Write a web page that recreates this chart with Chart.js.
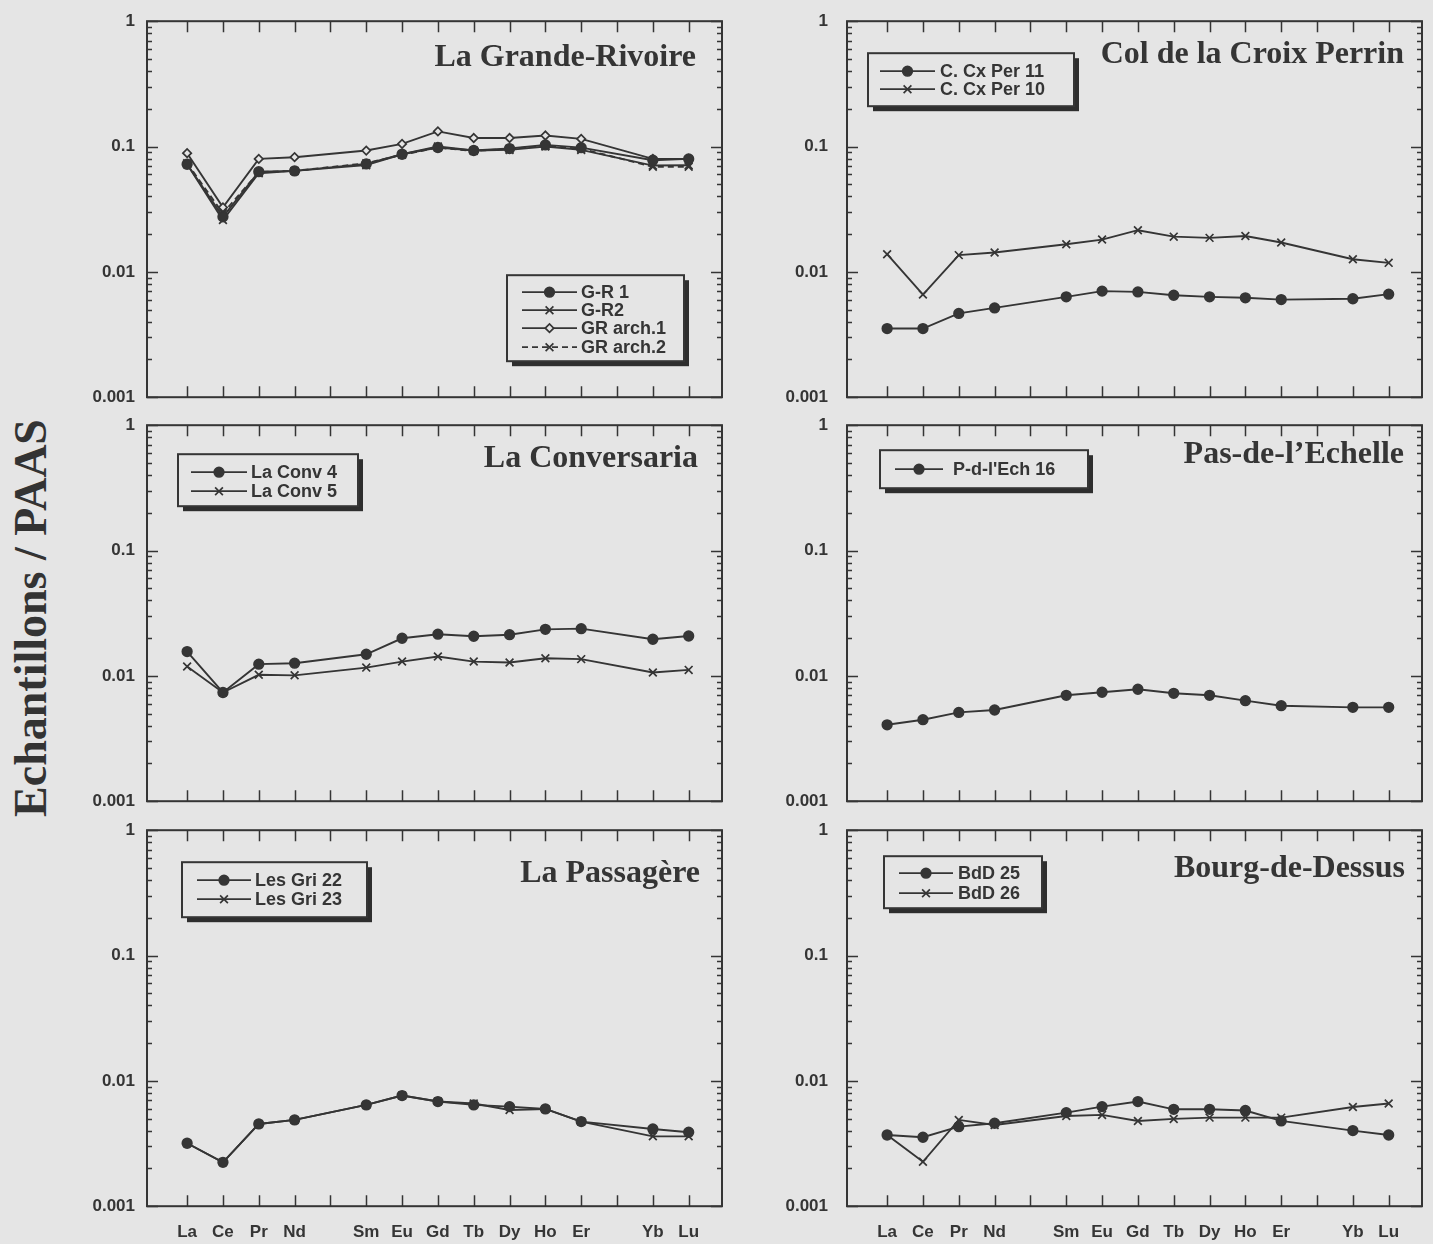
<!DOCTYPE html>
<html>
<head>
<meta charset="utf-8">
<script src="https://cdn.jsdelivr.net/npm/chart.js@4.4.0/dist/chart.umd.min.js"></script>
<style>
  body { margin: 0; background: #e5e5e5; width: 1433px; height: 1244px; position: relative; overflow: hidden; }
  canvas { position: absolute; }
  #ylab { position: absolute; left: 30px; top: 618px; transform: translate(-50%, -50%) rotate(-90deg);
          font: bold 46px "Liberation Serif", serif; color: #333; white-space: nowrap; }
</style>
</head>
<body>
<div id="ylab">Echantillons / PAAS</div>
<canvas id="p1"></canvas>
<canvas id="p2"></canvas>
<canvas id="p3"></canvas>
<canvas id="p4"></canvas>
<canvas id="p5"></canvas>
<canvas id="p6"></canvas>
<script>
// REE on x (blank = Pm, Tm, not analysed)
const elements = ['La', 'Ce', 'Pr', 'Nd', '', 'Sm', 'Eu', 'Gd', 'Tb', 'Dy', 'Ho', 'Er', '', 'Yb', 'Lu'];
const yTicks = [0.001, 0.01, 0.1, 1];
const yTickLabels = ['0.001', '0.01', '0.1', '1'];

// La Grande-Rivoire
const grR1    = [0.0722, 0.0275, 0.063, 0.0639, null, 0.0727, 0.0868, 0.0982, 0.093, 0.0964, 0.103, 0.098, null, 0.0778, 0.0797];
const grR2    = [0.0722, 0.0259, 0.0612, 0.0639, null, 0.071, 0.0868, 0.1, 0.093, 0.094, 0.1, 0.094, null, 0.0705, 0.071];
const grArch1 = [0.0885, 0.0327, 0.0797, 0.0822, null, 0.0929, 0.105, 0.132, 0.117, 0.117, 0.1225, 0.115, null, 0.0797, 0.0797];
const grArch2 = [0.0735, 0.0293, 0.0625, 0.0639, null, 0.0735, 0.086, 0.098, 0.092, 0.096, 0.101, 0.096, null, 0.069, 0.069];
// Col de la Croix Perrin
const cxPer11 = [0.00353, 0.00353, 0.00466, 0.00516, null, 0.00632, 0.00702, 0.00692, 0.00651, 0.00632, 0.00621, 0.00601, null, 0.0061, 0.00664];
const cxPer10 = [0.01384, 0.00659, 0.0136, 0.01426, null, 0.01663, 0.0181, 0.0215, 0.0191, 0.01867, 0.0193, 0.01714, null, 0.01262, 0.0118];
// La Conversaria
const conv4 = [0.01563, 0.00737, 0.0124, 0.01262, null, 0.01487, 0.01995, 0.0215, 0.0207, 0.0213, 0.0235, 0.0238, null, 0.0196, 0.0208];
const conv5 = [0.01186, 0.00737, 0.0102, 0.0101, null, 0.01164, 0.013, 0.01426, 0.013, 0.01277, 0.01383, 0.0136, null, 0.01063, 0.01116];
// Pas-de-l'Echelle
const pdEch16 = [0.00407, 0.00447, 0.00511, 0.00534, null, 0.007, 0.0074, 0.00782, 0.00726, 0.007, 0.00634, 0.00578, null, 0.00561, 0.00561];
// La Passagère
const gri22 = [0.00318, 0.00224, 0.00453, 0.00488, null, 0.00643, 0.00763, 0.00684, 0.00643, 0.00623, 0.00597, 0.00473, null, 0.00413, 0.00389];
const gri23 = [0.00318, 0.00224, 0.00453, 0.00488, null, 0.00643, 0.00763, 0.00684, 0.0066, 0.00586, 0.00597, 0.00473, null, 0.00361, 0.00361];
// Bourg-de-Dessus
const bdd25 = [0.0037, 0.00355, 0.00431, 0.00459, null, 0.00558, 0.00623, 0.00684, 0.00593, 0.00593, 0.0058, 0.00479, null, 0.00401, 0.0037];
const bdd26 = [0.0037, 0.00226, 0.00488, 0.00445, null, 0.00525, 0.00535, 0.00479, 0.00497, 0.00509, 0.00509, 0.00509, null, 0.00619, 0.00659];

const INK = '#353535';
const BG = '#e5e5e5';
const FRAME_W = 575, FRAME_H = 376, AXIS_W = 67, PAD_R = 12;
const SANS = '"Liberation Sans", Arial, sans-serif';

function series(label, data, mark, dashed) {
  const d = {
    label: label, data: data, spanGaps: true,
    borderColor: INK, borderWidth: 1.9, borderDash: dashed ? [6, 4] : [],
    pointBorderColor: INK, pointBorderWidth: 1.7
  };
  if (mark === 'dot') { d.pointStyle = 'circle'; d.pointRadius = 4.8; d.pointBackgroundColor = INK; }
  if (mark === 'cross') { d.pointStyle = 'crossRot'; d.pointRadius = 5.5; d.pointBackgroundColor = INK; }
  if (mark === 'diamond') { d.pointStyle = 'rectRot'; d.pointRadius = 4.2; d.pointBackgroundColor = BG; }
  return d;
}

// draws the boxed frame with inward ticks, the site name and the boxed legend
const panelDecor = {
  id: 'panelDecor',
  afterDatasetsDraw(chart, args, opts) {
    const ctx = chart.ctx, a = chart.chartArea;
    const xs = chart.scales.x, ys = chart.scales.y;
    ctx.save();
    ctx.strokeStyle = INK;
    ctx.lineWidth = 1.5;
    ctx.beginPath();
    elements.forEach((e, i) => {
      const px = Math.round(xs.getPixelForValue(i)) + 0.5;
      ctx.moveTo(px, a.bottom); ctx.lineTo(px, a.bottom - 11);
      ctx.moveTo(px, a.top); ctx.lineTo(px, a.top + 11);
    });
    for (let k = -3; k <= 0; k++) {
      for (let m = 1; m <= 9; m++) {
        if (k === 0 && m > 1) break;
        const py = Math.round(ys.getPixelForValue(m * Math.pow(10, k))) + 0.5;
        const len = m === 1 ? 11 : 5;
        ctx.moveTo(a.left, py); ctx.lineTo(a.left + len, py);
        ctx.moveTo(a.right, py); ctx.lineTo(a.right - len, py);
      }
    }
    ctx.stroke();
    ctx.lineWidth = 2;
    ctx.strokeRect(a.left, a.top, a.right - a.left, a.bottom - a.top);

    // title
    ctx.fillStyle = INK;
    ctx.font = 'bold 32px "Liberation Serif", serif';
    ctx.textAlign = 'right';
    ctx.textBaseline = 'middle';
    ctx.fillText(opts.title, a.left + opts.titleRight, a.top + opts.titleY);

    // legend box with drop shadow
    const L = opts.legend;
    const bx = a.left + L.x, by = a.top + L.y;
    ctx.fillStyle = '#2e2e2e';
    ctx.fillRect(bx + 5, by + 5, L.w, L.h);
    ctx.fillStyle = BG;
    ctx.fillRect(bx, by, L.w, L.h);
    ctx.lineWidth = 2;
    ctx.strokeRect(bx, by, L.w, L.h);
    ctx.font = 'bold 18px ' + SANS;
    ctx.textAlign = 'left';
    chart.data.datasets.forEach((d, i) => {
      const y = a.top + L.rows[i];
      const x0 = a.left + L.line[0], x1 = a.left + L.line[1];
      ctx.save();
      ctx.strokeStyle = INK;
      ctx.lineWidth = 1.8;
      ctx.setLineDash(d.borderDash || []);
      ctx.beginPath(); ctx.moveTo(x0, y); ctx.lineTo(x1, y); ctx.stroke();
      ctx.restore();
      ctx.save();
      ctx.strokeStyle = INK;
      ctx.fillStyle = d.pointBackgroundColor;
      ctx.lineWidth = d.pointBorderWidth;
      Chart.helpers.drawPoint(ctx, { pointStyle: d.pointStyle, radius: d.pointRadius, rotation: 0, borderWidth: d.pointBorderWidth }, (x0 + x1) / 2, y);
      ctx.restore();
      ctx.fillStyle = INK;
      ctx.fillText(d.label, a.left + L.textX, y + 1);
    });
    ctx.restore();
  }
};

const panels = [
  { id: 'p1', left: 147, top: 21, bottom: false, labelPad: 12, title: 'La Grande-Rivoire', titleRight: 549, titleY: 37,
    legend: { x: 360, y: 254, w: 177, h: 86, rows: [271, 289, 307, 326], line: [375, 430], textX: 434 },
    datasets: [series('G-R 1', grR1, 'dot'), series('G-R2', grR2, 'cross'),
               series('GR arch.1', grArch1, 'diamond'), series('GR arch.2', grArch2, 'cross', true)] },
  { id: 'p2', left: 847, top: 21, bottom: false, labelPad: 19, title: 'Col de la Croix Perrin', titleRight: 557, titleY: 34,
    legend: { x: 21, y: 32, w: 206, h: 53, rows: [50, 68], line: [33, 88], textX: 93 },
    datasets: [series('C. Cx Per 11', cxPer11, 'dot'), series('C. Cx Per 10', cxPer10, 'cross')] },
  { id: 'p3', left: 147, top: 425, bottom: false, labelPad: 12, title: 'La Conversaria', titleRight: 551, titleY: 34,
    legend: { x: 31, y: 29, w: 180, h: 52, rows: [47, 66], line: [44, 100], textX: 104 },
    datasets: [series('La Conv 4', conv4, 'dot'), series('La Conv 5', conv5, 'cross')] },
  { id: 'p4', left: 847, top: 425, bottom: false, labelPad: 19, title: 'Pas-de-l\u2019Echelle', titleRight: 557, titleY: 30,
    legend: { x: 33, y: 25, w: 208, h: 38, rows: [44], line: [48, 96], textX: 106 },
    datasets: [series('P-d-l\'Ech 16', pdEch16, 'dot')] },
  { id: 'p5', left: 147, top: 830, bottom: true, labelPad: 12, title: 'La Passagère', titleRight: 553, titleY: 44,
    legend: { x: 35, y: 32, w: 185, h: 55, rows: [50, 69], line: [50, 104], textX: 108 },
    datasets: [series('Les Gri 22', gri22, 'dot'), series('Les Gri 23', gri23, 'cross')] },
  { id: 'p6', left: 847, top: 830, bottom: true, labelPad: 19, title: 'Bourg-de-Dessus', titleRight: 558, titleY: 39,
    legend: { x: 37, y: 26, w: 158, h: 52, rows: [43, 63], line: [52, 106], textX: 111 },
    datasets: [series('BdD 25', bdd25, 'dot'), series('BdD 26', bdd26, 'cross')] }
];

panels.forEach(p => {
  const cv = document.getElementById(p.id);
  const axisH = p.bottom ? 44 : 0;
  cv.width = AXIS_W + FRAME_W + PAD_R;
  cv.height = FRAME_H + 30 + axisH;
  cv.style.left = (p.left - AXIS_W) + 'px';

  const chart = new Chart(cv, {
    type: 'line',
    data: { datasets: p.datasets.map(d => Object.assign({}, d, { data: d.data.map((v, i) => ({ x: i, y: v })) })) },
    options: {
      responsive: false,
      maintainAspectRatio: false,
      animation: false,
      devicePixelRatio: 1,
      layout: { padding: { top: 0, right: PAD_R, bottom: 0, left: 0 } },
      plugins: {
        legend: { display: false },
        tooltip: { enabled: false },
        panelDecor: { title: p.title, titleRight: p.titleRight, titleY: p.titleY, legend: p.legend }
      },
      scales: {
        x: {
          type: 'linear', min: -1.12, max: 14.93,
          grid: { display: false, drawTicks: false }, border: { display: false },
          afterBuildTicks: s => { s.ticks = elements.map((e, i) => ({ value: i })); },
          afterFit: s => { s.height = axisH; },
          ticks: {
            display: p.bottom, autoSkip: false, maxRotation: 0, padding: 16, color: INK,
            font: { family: SANS, size: 17, weight: 'bold' },
            callback: v => elements[v]
          }
        },
        y: {
          type: 'logarithmic', min: 0.001, max: 1,
          grid: { display: false, drawTicks: false }, border: { display: false },
          afterBuildTicks: s => { s.ticks = yTicks.map(v => ({ value: v })); },
          afterFit: s => { s.width = AXIS_W; },
          ticks: {
            padding: p.labelPad, color: INK,
            font: { family: SANS, size: 17, weight: 'bold' },
            callback: v => yTickLabels[yTicks.indexOf(v)]
          }
        }
      }
    },
    plugins: [panelDecor]
  });

  // make the plot frame exactly FRAME_H tall, then put it where the reference has it
  const area = chart.chartArea;
  const extra = FRAME_H - (area.bottom - area.top);
  if (extra !== 0) chart.resize(cv.width, cv.height + extra);
  cv.style.top = (p.top - chart.chartArea.top) + 'px';
});
</script>
</body>
</html>
